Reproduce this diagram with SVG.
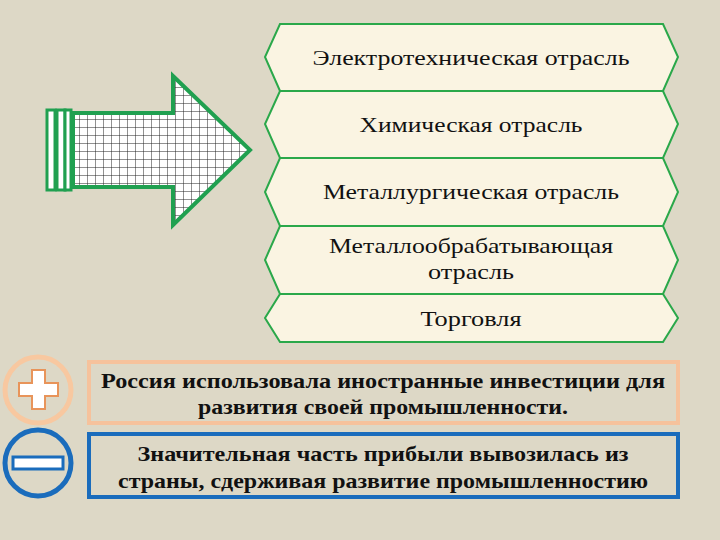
<svg xmlns="http://www.w3.org/2000/svg" width="720" height="540" viewBox="0 0 720 540">
<defs>
<pattern id="grid" width="8" height="8" patternUnits="userSpaceOnUse"><rect width="8" height="8" fill="#fff"/><path d="M8 0V8H0" fill="none" stroke="#222" stroke-width="1"/></pattern>
</defs>
<rect width="720" height="540" fill="#ddd8c6"/>
<g id="arrow">
<rect x="47" y="110" width="8" height="80" fill="#fff" stroke="#20a050" stroke-width="3"/>
<rect x="57" y="110" width="8" height="80" fill="#fff" stroke="#20a050" stroke-width="3"/>
<rect x="65" y="110" width="6" height="80" fill="#fff" stroke="#20a050" stroke-width="3"/>
<path d="M73 113H173V76L250 150L173 225V187H73Z" fill="url(#grid)" stroke="#20a050" stroke-width="4"/>
</g>
<g fill="#faf4e2" stroke="#2aa84a" stroke-width="2">
<g id="n1"><path d="M280 24H663L678 57L663 91H280L265 57Z"/></g>
<g id="n2"><path d="M280 91H663L678 124L663 158H280L265 124Z"/></g>
<g id="n3"><path d="M280 158H663L678 192L663 226H280L265 192Z"/></g>
<g id="n4"><path d="M280 226H663L678 260L663 294H280L265 260Z"/></g>
<g id="n5"><path d="M280 294H663L678 318L663 342H280L265 318Z"/></g>
</g>
<g font-family="'Liberation Serif', 'DejaVu Serif', serif" font-size="21" fill="#111" text-anchor="middle">
<text x="471" y="65" textLength="317" lengthAdjust="spacingAndGlyphs">Электротехническая отрасль</text>
<text x="471" y="132" textLength="223" lengthAdjust="spacingAndGlyphs">Химическая отрасль</text>
<text x="471" y="199" textLength="296" lengthAdjust="spacingAndGlyphs">Металлургическая отрасль</text>
<text x="471" y="253" textLength="284" lengthAdjust="spacingAndGlyphs">Металлообрабатывающая</text>
<text x="471" y="279" textLength="86" lengthAdjust="spacingAndGlyphs">отрасль</text>
<text x="471" y="326" textLength="101" lengthAdjust="spacingAndGlyphs">Торговля</text>
</g>
<g id="plus">
<circle cx="38" cy="390" r="33" fill="none" stroke="#f8c8a0" stroke-width="5"/>
<path d="M32 370H45V383H58V396H45V409H32V396H19V383H32Z" fill="#fff" stroke="#e8945a" stroke-width="2"/>
</g>
<g id="minus">
<circle cx="38" cy="463" r="33" fill="none" stroke="#1a6cbc" stroke-width="5"/>
<rect x="13" y="457" width="50" height="12" fill="#fff" stroke="#1a6cbc" stroke-width="3"/>
</g>
<rect x="89" y="362" width="589" height="61" fill="none" stroke="#f6c29c" stroke-width="4"/>
<rect x="89" y="434" width="589" height="63" fill="none" stroke="#1a6cbc" stroke-width="4"/>
<g font-family="'Liberation Serif', 'DejaVu Serif', serif" font-size="22" font-weight="bold" fill="#111" text-anchor="middle">
<text x="383" y="388" textLength="564" lengthAdjust="spacingAndGlyphs">Россия использовала иностранные инвестиции для</text>
<text x="383" y="414" textLength="370" lengthAdjust="spacingAndGlyphs">развития своей промышленности.</text>
<text x="383" y="461" textLength="491" lengthAdjust="spacingAndGlyphs">Значительная часть прибыли вывозилась из</text>
<text x="383" y="488" textLength="530" lengthAdjust="spacingAndGlyphs">страны, сдерживая развитие промышленностию</text>
</g>
<g id="connectors"/>
</svg>
